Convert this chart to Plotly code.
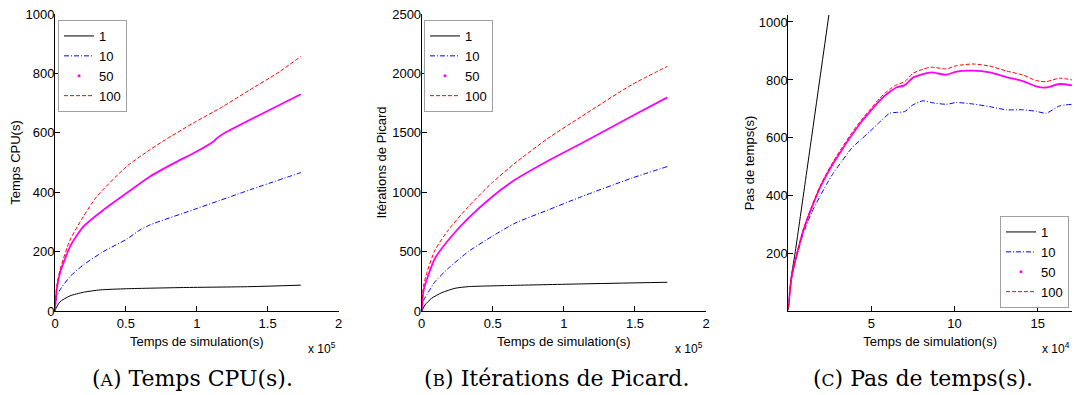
import plotly.graph_objects as go

# ---------------- data ----------------
series_names = ["1", "10", "50", "100"]

# (A) Temps CPU(s)  -- x in seconds
cpu_x_1 = [0, 700, 3500, 10600, 20000, 31800, 50600, 90600, 137600, 173400]
cpu_y_1 = [0, 9, 31, 51, 63, 71, 75, 79, 82, 87]
cpu_x_10 = [0, 1200, 3500, 10600, 20000, 34100, 50600, 60000, 67000, 97600, 137600, 173400]
cpu_y_10 = [0, 48, 71, 116, 155, 200, 242, 273, 290, 341, 408, 466]
cpu_x_50 = [0, 1200, 3500, 10600, 20000, 34100, 50600, 67000, 86000, 97600, 111800, 114500, 118800, 173400]
cpu_y_50 = [0, 71, 127, 217, 284, 340, 397, 453, 503, 531, 571, 583, 597, 730]
cpu_x_100 = [0, 1200, 3500, 10600, 20000, 29400, 50600, 67000, 77600, 97600, 116500, 137600, 155000, 158800, 173400]
cpu_y_100 = [0, 82, 138, 239, 318, 385, 487, 543, 576, 633, 683, 745, 795, 807, 857]

# (B) Iterations de Picard
pic_x_1 = [0, 2300, 7000, 14100, 23400, 32800, 65600, 112500, 172800]
pic_y_1 = [0, 51, 107, 154, 191, 205, 216, 228, 242]
pic_x = [0, 1200, 3500, 9400, 18800, 32800, 49200, 65600, 89000, 112500, 147700, 172800]
pic_y_10 = [0, 87, 135, 247, 360, 500, 626, 739, 851, 963, 1118, 1216]
pic_y_50 = [0, 163, 261, 444, 598, 781, 958, 1104, 1265, 1412, 1640, 1798]
pic_y_100 = [0, 205, 317, 514, 683, 879, 1076, 1244, 1455, 1638, 1904, 2059]

# (C) Pas de temps(s)
pas_x_1 = [0, 1500, 4000, 10000, 25000]
pas_y_1 = [5, 110, 200, 440, 1048]
pas_x = [0, 2000, 5000, 9000, 14000, 19000, 23000, 27000, 32000, 38000, 44000, 49000,
         55000, 61000, 65000, 70000, 75000, 81000, 86000, 95000, 101000, 111000,
         121000, 131000, 141000, 149000, 155000, 163000, 170600]
pas_y_100 = [13, 122, 197, 283, 363, 432, 478, 518, 564, 616, 662, 697,
             737, 768, 783, 794, 823, 837, 844, 838, 849, 855,
             848, 831, 817, 798, 794, 806, 800]
pas_y_50 = [13, 120, 195, 280, 358, 428, 472, 512, 557, 608, 656, 690,
            729, 759, 774, 782, 808, 820, 826, 818, 829, 832,
            826, 810, 796, 778, 774, 786, 781]
pas_y_10 = [13, 118, 190, 270, 342, 398, 440, 478, 518, 564, 596, 622,
            655, 685, 688, 691, 714, 728, 722, 716, 722, 717,
            708, 697, 697, 692, 685, 710, 716]

captions = ["(<span style='font-size:17px'>A</span>) Temps CPU(s).",
            "(<span style='font-size:17px'>B</span>) Itérations de Picard.",
            "(<span style='font-size:17px'>C</span>) Pas de temps(s)."]
y_titles = ["Temps CPU(s)", "Itérations de Picard", "Pas de temps(s)"]
x_title = "Temps de simulation(s)"

# ---------------- styling ----------------
W, H = 1075, 395
SANS = "Liberation Sans, Arial, sans-serif"
SERIF = "DejaVu Serif, Liberation Serif, serif"
colors = {"1": "#000000", "10": "#0000ff", "50": "#ff00ff", "100": "#ff0000"}
dashes = {"1": "solid", "10": "5px,2px,1px,2px", "50": "solid", "100": "4px,2px"}
widths = {"1": 1, "10": 1, "50": 1.8, "100": 1}

def px_x(p):
    return p / W

def px_y(p):
    return (H - p) / H

fig = go.Figure()

panels = [
    (("x", "y"), "legend", [(cpu_x_1, cpu_y_1), (cpu_x_10, cpu_y_10), (cpu_x_50, cpu_y_50), (cpu_x_100, cpu_y_100)]),
    (("x2", "y2"), "legend2", [(pic_x_1, pic_y_1), (pic_x, pic_y_10), (pic_x, pic_y_50), (pic_x, pic_y_100)]),
    (("x3", "y3"), "legend3", [(pas_x_1, pas_y_1), (pas_x, pas_y_10), (pas_x, pas_y_50), (pas_x, pas_y_100)]),
]

for (xa, ya), leg, data in panels:
    for name, (xs, ys) in zip(series_names, data):
        fig.add_trace(go.Scatter(
            x=xs, y=ys, xaxis=xa, yaxis=ya, name=name, mode="lines",
            line=dict(color=colors[name], width=widths[name], dash=dashes[name], shape="spline", smoothing=0.6),
            showlegend=(name != "50"), legend=leg, legendgroup=leg + name, legendrank=int(name),
        ))
        if name == "50":
            fig.add_trace(go.Scatter(
                x=[None], y=[None], xaxis=xa, yaxis=ya, name=name, mode="markers",
                marker=dict(color=colors[name], size=3), showlegend=True,
                legend=leg, legendgroup=leg + name, legendrank=50,
            ))

axis_common = dict(showline=True, linecolor="black", linewidth=1, ticks="inside", ticklen=5,
                   tickcolor="black", tickwidth=1, showgrid=False, zeroline=False, mirror=False,
                   automargin=False,
                   tickfont=dict(family=SANS, size=13, color="black"),
                   title_font=dict(family=SANS, size=13, color="black"))
yextra = dict(ticklabelstandoff=-3)

top, bottom = 14, 311
fig.update_layout(
    template="none",
    width=W, height=H, margin=dict(l=0, r=0, t=0, b=0, autoexpand=False),
    paper_bgcolor="white", plot_bgcolor="white",
    font=dict(family=SANS, size=13, color="black"),
    xaxis=dict(axis_common, domain=[px_x(55), px_x(338.5)], range=[0, 200000],
               tickvals=[0, 50000, 100000, 150000, 200000], ticktext=["0", "0.5", "1", "1.5", "2"],
               title=dict(text=x_title, standoff=7), anchor="y"),
    yaxis=dict(axis_common, **yextra, domain=[px_y(bottom), px_y(top)], range=[0, 1000],
               tickvals=[0, 200, 400, 600, 800, 1000],
               title=dict(text=y_titles[0], standoff=1), anchor="x"),
    xaxis2=dict(axis_common, domain=[px_x(421.7), px_x(706)], range=[0, 200000],
                tickvals=[0, 50000, 100000, 150000, 200000], ticktext=["0", "0.5", "1", "1.5", "2"],
                title=dict(text=x_title, standoff=7), anchor="y2"),
    yaxis2=dict(axis_common, **yextra, domain=[px_y(bottom), px_y(top)], range=[0, 2500],
                tickvals=[0, 500, 1000, 1500, 2000, 2500],
                title=dict(text=y_titles[1], standoff=2), anchor="x2"),
    xaxis3=dict(axis_common, domain=[px_x(788.3), px_x(1072)], range=[0, 170600],
                tickvals=[50000, 100000, 150000], ticktext=["5", "10", "15"],
                title=dict(text=x_title, standoff=7), anchor="y3"),
    yaxis3=dict(axis_common, **yextra, domain=[px_y(bottom), px_y(15)], range=[3, 1024],
                tickvals=[200, 400, 600, 800, 1000],
                title=dict(text=y_titles[2], standoff=1), anchor="x3"),
)

legend_common = dict(bgcolor="white", bordercolor="#a0a0a0", borderwidth=1,
                     font=dict(family=SANS, size=13, color="black"),
                     itemwidth=30, tracegroupgap=0, traceorder="normal")
fig.update_layout(
    legend=dict(legend_common, x=px_x(58), y=px_y(20), xanchor="left", yanchor="top"),
    legend2=dict(legend_common, x=px_x(424), y=px_y(20), xanchor="left", yanchor="top"),
    legend3=dict(legend_common, x=px_x(1069), y=px_y(308), xanchor="right", yanchor="bottom"),
)

annotations = []
for xc, exp in [(322, "5"), (689, "5"), (1056, "4")]:
    annotations.append(dict(x=px_x(xc), y=px_y(348), xref="paper", yref="paper",
                            xanchor="center", yanchor="middle",
                            text="x 10<sup>" + exp + "</sup>", showarrow=False,
                            font=dict(family=SANS, size=12, color="black")))
for xc, cap in zip([192, 556, 923], captions):
    annotations.append(dict(x=px_x(xc), y=px_y(378), xref="paper", yref="paper",
                            xanchor="center", yanchor="middle",
                            text=cap, showarrow=False,
                            font=dict(family=SERIF, size=22, color="black")))
fig.update_layout(annotations=annotations)

fig.write_html("out.html", config={"displayModeBar": False},
               post_script="document.body.style.margin='0';document.body.style.overflow='hidden';")
